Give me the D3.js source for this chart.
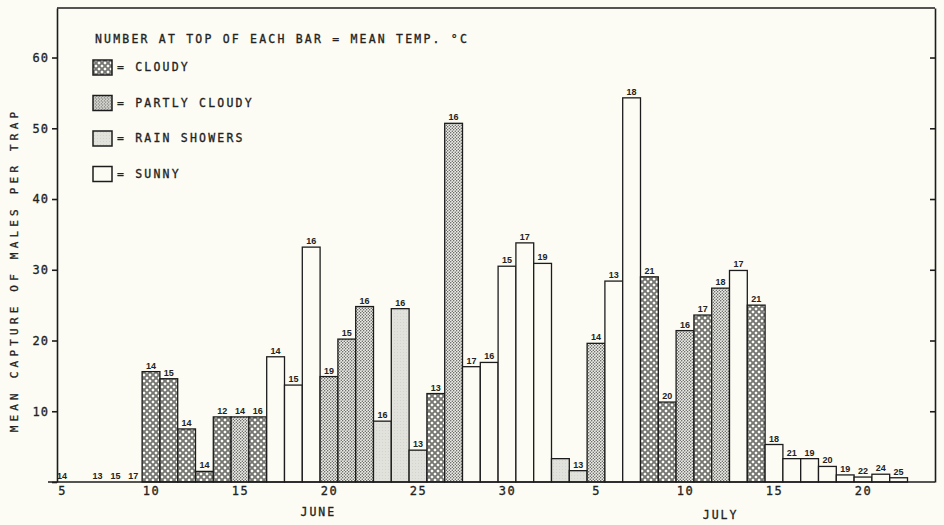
<!DOCTYPE html>
<html>
<head>
<meta charset="utf-8">
<script src="https://cdn.jsdelivr.net/npm/d3@7"></script>
<style>
  body { margin: 0; background: #fcfcf4; }
  svg { display: block; }
  text { fill: #222; }
  .lab { font-family: 'DejaVu Sans Mono', monospace; stroke: #222; stroke-width: 0.3px; }
  .val { font-family: 'Liberation Sans', Arial, sans-serif; font-weight: bold; font-size: 9px; }
</style>
</head>
<body>
<script>
// one entry per sampling day (mm-dd); June 6 has no record
const dates = ['06-05','06-07','06-08','06-09','06-10','06-11','06-12','06-13','06-14','06-15',
  '06-16','06-17','06-18','06-19','06-20','06-21','06-22','06-23','06-24','06-25','06-26',
  '06-27','06-28','06-29','06-30','07-01','07-02','07-03','07-04','07-05','07-06','07-07',
  '07-08','07-09','07-10','07-11','07-12','07-13','07-14','07-15','07-16','07-17','07-18',
  '07-19','07-20','07-21','07-22']
const capture = [0, 0, 0, 0, 15.6, 14.6, 7.5, 1.5, 9.2, 9.2,
  9.2, 17.7, 13.7, 33.2, 14.9, 20.2, 24.8, 8.6, 24.5, 4.5, 12.5,
  50.7, 16.3, 16.9, 30.5, 33.8, 30.9, 3.3, 1.6, 19.6, 28.4, 54.3,
  29.0, 11.3, 21.4, 23.6, 27.4, 29.9, 25.0, 5.3, 3.3, 3.3, 2.2,
  1.0, 0.7, 1.1, 0.6]
const temps = [14, 13, 15, 17, 14, 15, 14, 14, 12, 14,
  16, 14, 15, 16, 19, 15, 16, 16, 16, 13, 13,
  16, 17, 16, 15, 17, 19, null, 13, 14, 13, 18,
  21, 20, 16, 17, 18, 17, 21, 18, 21, 19, 20,
  19, 22, 24, 25]
const weather = [null, null, null, null, 'cloudy', 'cloudy', 'cloudy', 'cloudy', 'cloudy', 'partly',
  'cloudy', 'sunny', 'sunny', 'sunny', 'partly', 'partly', 'partly', 'rain', 'rain', 'rain', 'cloudy',
  'partly', 'sunny', 'sunny', 'sunny', 'sunny', 'sunny', 'rain', 'rain', 'partly', 'sunny', 'sunny',
  'cloudy', 'cloudy', 'partly', 'cloudy', 'partly', 'sunny', 'cloudy', 'sunny', 'sunny', 'sunny', 'sunny',
  'sunny', 'sunny', 'sunny', 'sunny']

const legendKeys = ['cloudy', 'partly', 'rain', 'sunny']
const legendNames = ['CLOUDY', 'PARTLY CLOUDY', 'RAIN SHOWERS', 'SUNNY']
const yTicks = [0, 10, 20, 30, 40, 50, 60]
const xTicks = ['06-05','06-10','06-15','06-20','06-25','06-30','07-05','07-10','07-15','07-20']
const months = ['JUNE', 'JULY']
const monthAt = ['06-19', '07-12']

const width = 944, height = 525
const left = 57, right = 935, ink = '#1c1c1c', paper = '#fcfcf4'

const parseDay = (s) => d3.utcParse('%Y-%m-%d')('1970-' + s)

const x = d3.scaleUtc().domain([parseDay('06-05'), parseDay('07-20')]).range([62, 863])
const y = d3.scaleLinear().domain([0, 67]).range([482, 8])
const bw = x(parseDay('06-06')) - x(parseDay('06-05'))

const svg = d3.select('body').append('svg').attr('width', width).attr('height', height)

// fill patterns for the weather classes
const defs = svg.append('defs')
const pc = defs.append('pattern').attr('id', 'pat-cloudy').attr('patternUnits', 'userSpaceOnUse')
  .attr('width', 6).attr('height', 6)
pc.append('rect').attr('width', 6).attr('height', 6).attr('fill', '#f6f6ef')
pc.append('path').attr('d', 'M0,0L6,6M6,0L0,6').attr('stroke', '#333').attr('stroke-width', 0.6)
;[[3, 0], [0, 3], [6, 3], [3, 6]].forEach(([cx, cy]) => {
  pc.append('circle').attr('cx', cx).attr('cy', cy).attr('r', 1.8)
    .attr('fill', '#fcfcf5').attr('stroke', '#3a3a3a').attr('stroke-width', 0.6)
})
const pp = defs.append('pattern').attr('id', 'pat-partly').attr('patternUnits', 'userSpaceOnUse')
  .attr('width', 3).attr('height', 3)
pp.append('rect').attr('width', 3).attr('height', 3).attr('fill', '#eeeee8')
pp.append('circle').attr('cx', 0.75).attr('cy', 0.75).attr('r', 0.65).attr('fill', '#444')
pp.append('circle').attr('cx', 2.25).attr('cy', 2.25).attr('r', 0.65).attr('fill', '#444')
const pr = defs.append('pattern').attr('id', 'pat-rain').attr('patternUnits', 'userSpaceOnUse')
  .attr('width', 3).attr('height', 3)
pr.append('rect').attr('width', 3).attr('height', 3).attr('fill', '#e2e2dd')
pr.append('circle').attr('cx', 1.5).attr('cy', 1.5).attr('r', 0.4).attr('fill', '#c4c4be')
defs.append('pattern').attr('id', 'pat-sunny').attr('patternUnits', 'userSpaceOnUse')
  .attr('width', 4).attr('height', 4)
  .append('rect').attr('width', 4).attr('height', 4).attr('fill', paper)

const rows = dates.map((d, i) => ({ date: parseDay(d), v: capture[i], t: temps[i], w: weather[i] }))

svg.selectAll('rect.bar')
  .data(rows.filter((r) => r.w && r.v > 0))
  .join('rect')
  .attr('class', 'bar')
  .attr('x', (r) => x(r.date) - bw / 2)
  .attr('width', bw)
  .attr('y', (r) => y(r.v))
  .attr('height', (r) => y(0) - y(r.v))
  .attr('fill', (r) => `url(#pat-${r.w})`)
  .attr('stroke', ink)
  .attr('stroke-width', 1.3)

svg.selectAll('text.val')
  .data(rows.filter((r) => r.t != null))
  .join('text')
  .attr('class', 'val')
  .attr('x', (r) => x(r.date))
  .attr('y', (r) => y(r.v) - 3)
  .attr('text-anchor', 'middle')
  .text((r) => r.t)

// frame + axes
const yAxis = d3.axisLeft(y).tickValues(yTicks).tickSize(5).tickSizeOuter(0).tickPadding(3)
  .tickFormat((d) => d ? d : '')
const gy = svg.append('g').attr('transform', `translate(${left},0)`).call(yAxis)
gy.selectAll('text').attr('class', 'lab').style('font-size', '12px').style('letter-spacing', '1px')

const gr = svg.append('g').attr('transform', `translate(${right},0)`)
  .call(d3.axisRight(y).tickValues(yTicks.slice(1)).tickSize(-5).tickSizeOuter(0).tickFormat(''))

svg.append('line').attr('x1', left).attr('x2', right).attr('y1', y(67)).attr('y2', y(67))
svg.append('line').attr('x1', left - 9).attr('x2', right).attr('y1', y(0)).attr('y2', y(0))

const xAxis = d3.axisBottom(x).tickValues(xTicks.map(parseDay)).tickSize(0).tickPadding(4)
  .tickFormat(d3.utcFormat('%-d'))
const gx = svg.append('g').attr('transform', `translate(0,${y(0)})`).call(xAxis)
gx.select('.domain').remove()
gx.selectAll('text').attr('class', 'lab').style('font-size', '12px').style('letter-spacing', '1.5px')

svg.selectAll('path.domain, .tick line, line').attr('stroke', ink).attr('stroke-width', 1.6)
svg.selectAll('.tick text').attr('fill', '#222')

svg.selectAll('text.month')
  .data(months)
  .join('text')
  .attr('class', 'lab month')
  .attr('x', (m, i) => x(parseDay(monthAt[i])) + (i === 0 ? bw * 0.4 : 0))
  .attr('y', (m, i) => i === 0 ? 516 : 519)
  .attr('text-anchor', 'middle')
  .style('font-size', '11.5px')
  .style('letter-spacing', '2px')
  .text((m) => m)

svg.append('text')
  .attr('class', 'lab')
  .attr('transform', 'translate(18,270) rotate(-90)')
  .attr('text-anchor', 'middle')
  .style('font-size', '11px')
  .style('letter-spacing', '4.2px')
  .text('MEAN CAPTURE OF MALES PER TRAP')

// legend
svg.append('text').attr('class', 'lab').attr('x', 95).attr('y', 43)
  .style('font-size', '11.5px').style('letter-spacing', '2.2px')
  .text('NUMBER AT TOP OF EACH BAR = MEAN TEMP. °C')

const lg = svg.selectAll('g.leg').data(legendKeys).join('g')
  .attr('class', 'leg')
  .attr('transform', (k, i) => `translate(93,${60 + i * 35.5})`)
lg.append('rect').attr('width', 19).attr('height', 15)
  .attr('fill', (k) => `url(#pat-${k})`).attr('stroke', ink).attr('stroke-width', 1.5)
lg.append('text').attr('class', 'lab').attr('x', 24).attr('y', 11)
  .style('font-size', '11.5px').style('letter-spacing', '2.2px')
  .text((k, i) => '= ' + legendNames[i])
</script>
</body>
</html>
